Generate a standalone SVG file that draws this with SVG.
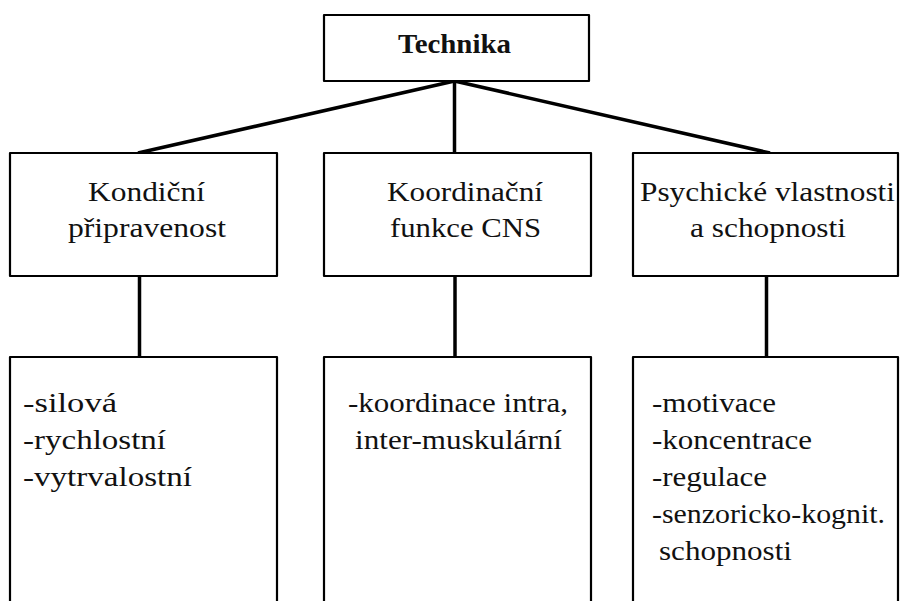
<svg xmlns="http://www.w3.org/2000/svg" width="900" height="601" viewBox="0 0 900 601">
<style>
.box{fill:#fff;stroke:#000;stroke-width:2.2;stroke-linejoin:round}
.con{stroke:#000;stroke-width:3.5;fill:none;stroke-linecap:butt}
</style>
<rect width="900" height="601" fill="#fff"/>
<g id="connectors">
<line class="con" x1="454.5" y1="81" x2="138" y2="153"/>
<line class="con" x1="454.5" y1="81" x2="454.5" y2="153"/>
<line class="con" x1="454.5" y1="81" x2="770" y2="153"/>
<line class="con" x1="139.5" y1="276" x2="139.5" y2="357"/>
<line class="con" x1="455" y1="276" x2="455" y2="357"/>
<line class="con" x1="766.5" y1="276" x2="766.5" y2="357"/>
</g>
<g id="technika">
<rect class="box" x="324" y="15" width="265" height="66"/>
<text font-family="Liberation Serif, Times New Roman, serif" font-size="28" font-weight="bold" fill="#111" x="398" y="53" textLength="113" lengthAdjust="spacingAndGlyphs">Technika</text>
</g>
<g id="kondicni">
<rect class="box" x="10" y="153" width="267" height="123"/>
<text font-family="Liberation Serif, Times New Roman, serif" font-size="27" fill="#111" x="88" y="201" textLength="117" lengthAdjust="spacingAndGlyphs">Kondiční</text>
<text font-family="Liberation Serif, Times New Roman, serif" font-size="27" fill="#111" x="68" y="237" textLength="158" lengthAdjust="spacingAndGlyphs">připravenost</text>
</g>
<g id="koordinacni">
<rect class="box" x="324" y="153" width="267" height="123"/>
<text font-family="Liberation Serif, Times New Roman, serif" font-size="27" fill="#111" x="387" y="201" textLength="156" lengthAdjust="spacingAndGlyphs">Koordinační</text>
<text font-family="Liberation Serif, Times New Roman, serif" font-size="27" fill="#111" x="390" y="237" textLength="151" lengthAdjust="spacingAndGlyphs">funkce CNS</text>
</g>
<g id="psychicke">
<rect class="box" x="633" y="153" width="265" height="123"/>
<text font-family="Liberation Serif, Times New Roman, serif" font-size="27" fill="#111" x="640" y="201" textLength="255" lengthAdjust="spacingAndGlyphs">Psychické vlastnosti</text>
<text font-family="Liberation Serif, Times New Roman, serif" font-size="27" fill="#111" x="690" y="237" textLength="156" lengthAdjust="spacingAndGlyphs">a schopnosti</text>
</g>
<g id="kondicni-detail">
<rect class="box" x="10" y="357" width="267" height="260"/>
<text font-family="Liberation Serif, Times New Roman, serif" font-size="27" fill="#111" x="23" y="412" textLength="94" lengthAdjust="spacingAndGlyphs">-silová</text>
<text font-family="Liberation Serif, Times New Roman, serif" font-size="27" fill="#111" x="23" y="449" textLength="143" lengthAdjust="spacingAndGlyphs">-rychlostní</text>
<text font-family="Liberation Serif, Times New Roman, serif" font-size="27" fill="#111" x="23" y="486" textLength="169" lengthAdjust="spacingAndGlyphs">-vytrvalostní</text>
</g>
<g id="koordinacni-detail">
<rect class="box" x="324" y="357" width="267" height="260"/>
<text font-family="Liberation Serif, Times New Roman, serif" font-size="27" fill="#111" x="348" y="412" textLength="220" lengthAdjust="spacingAndGlyphs">-koordinace intra,</text>
<text font-family="Liberation Serif, Times New Roman, serif" font-size="27" fill="#111" x="355" y="449" textLength="207" lengthAdjust="spacingAndGlyphs">inter-muskulární</text>
</g>
<g id="psychicke-detail">
<rect class="box" x="633" y="357" width="265" height="260"/>
<text font-family="Liberation Serif, Times New Roman, serif" font-size="27" fill="#111" x="652" y="412" textLength="124" lengthAdjust="spacingAndGlyphs">-motivace</text>
<text font-family="Liberation Serif, Times New Roman, serif" font-size="27" fill="#111" x="652" y="449" textLength="160" lengthAdjust="spacingAndGlyphs">-koncentrace</text>
<text font-family="Liberation Serif, Times New Roman, serif" font-size="27" fill="#111" x="652" y="486" textLength="115" lengthAdjust="spacingAndGlyphs">-regulace</text>
<text font-family="Liberation Serif, Times New Roman, serif" font-size="27" fill="#111" x="652" y="523" textLength="233" lengthAdjust="spacingAndGlyphs">-senzoricko-kognit.</text>
<text font-family="Liberation Serif, Times New Roman, serif" font-size="27" fill="#111" x="659" y="560" textLength="133" lengthAdjust="spacingAndGlyphs">schopnosti</text>
</g>
</svg>
